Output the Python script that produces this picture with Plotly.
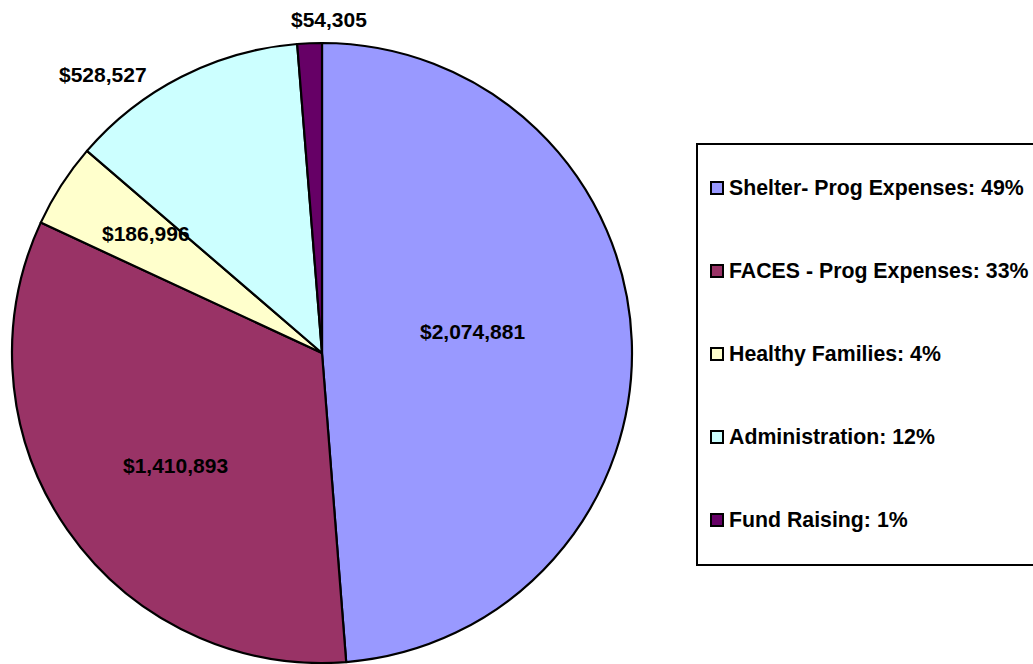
import plotly.graph_objects as go

categories = ["Shelter- Prog Expenses", "FACES - Prog Expenses", "Healthy Families", "Administration", "Fund Raising"]
values = [2074881, 1410893, 186996, 528527, 54305]
colors = ["#9999FF", "#993366", "#FFFFCC", "#CCFFFF", "#660066"]

W, H = 1033, 664
FONT = "Arial, Liberation Sans, sans-serif"

# pixel positions of the value labels (layout only)
label_pos = [(472, 331), (175, 466), (146, 234), (103, 74), (329, 19)]

fig = go.Figure(go.Pie(
    labels=categories, values=values, sort=False, direction="clockwise", rotation=0,
    marker=dict(colors=colors, line=dict(color="black", width=2.2)),
    textinfo="none", hoverinfo="label+value+percent", showlegend=False,
    domain=dict(x=[12 / W, 632 / W], y=[1 - 663 / H, 1 - 43 / H]),
))

total = sum(values)
ann = []
for v, (px, py) in zip(values, label_pos):
    ann.append(dict(text=f"${v:,}", x=px / W, y=1 - py / H, xref="paper", yref="paper",
                    xanchor="center", yanchor="middle", showarrow=False,
                    font=dict(family=FONT, size=21, color="black", weight="bold")))

shapes = [dict(type="rect", xref="paper", yref="paper", x0=697 / W, x1=1045 / W,
               y0=1 - 565 / H, y1=1 - 144 / H, line=dict(color="black", width=2),
               fillcolor="white", layer="below")]
y0, dy = 188, 83
for i, (c, v, col) in enumerate(zip(categories, values, colors)):
    yy = y0 + i * dy
    shapes.append(dict(type="rect", xref="paper", yref="paper",
                       x0=711 / W, x1=723 / W, y0=1 - (yy + 6) / H, y1=1 - (yy - 6) / H,
                       fillcolor=col, line=dict(color="black", width=2)))
    ann.append(dict(text=f"{c}: {round(100 * v / total)}%", x=727 / W, y=1 - yy / H,
                    xref="paper", yref="paper", xanchor="left", yanchor="middle",
                    showarrow=False,
                    font=dict(family=FONT, size=21.3, color="black", weight="bold")))

fig.update_layout(width=W, height=H, margin=dict(l=0, r=0, t=0, b=0),
                  paper_bgcolor="white", plot_bgcolor="white",
                  annotations=ann, shapes=shapes)
fig.write_html("out.html", config={"displayModeBar": False},
               post_script="document.body.style.margin='0';document.body.style.overflow='hidden';")
